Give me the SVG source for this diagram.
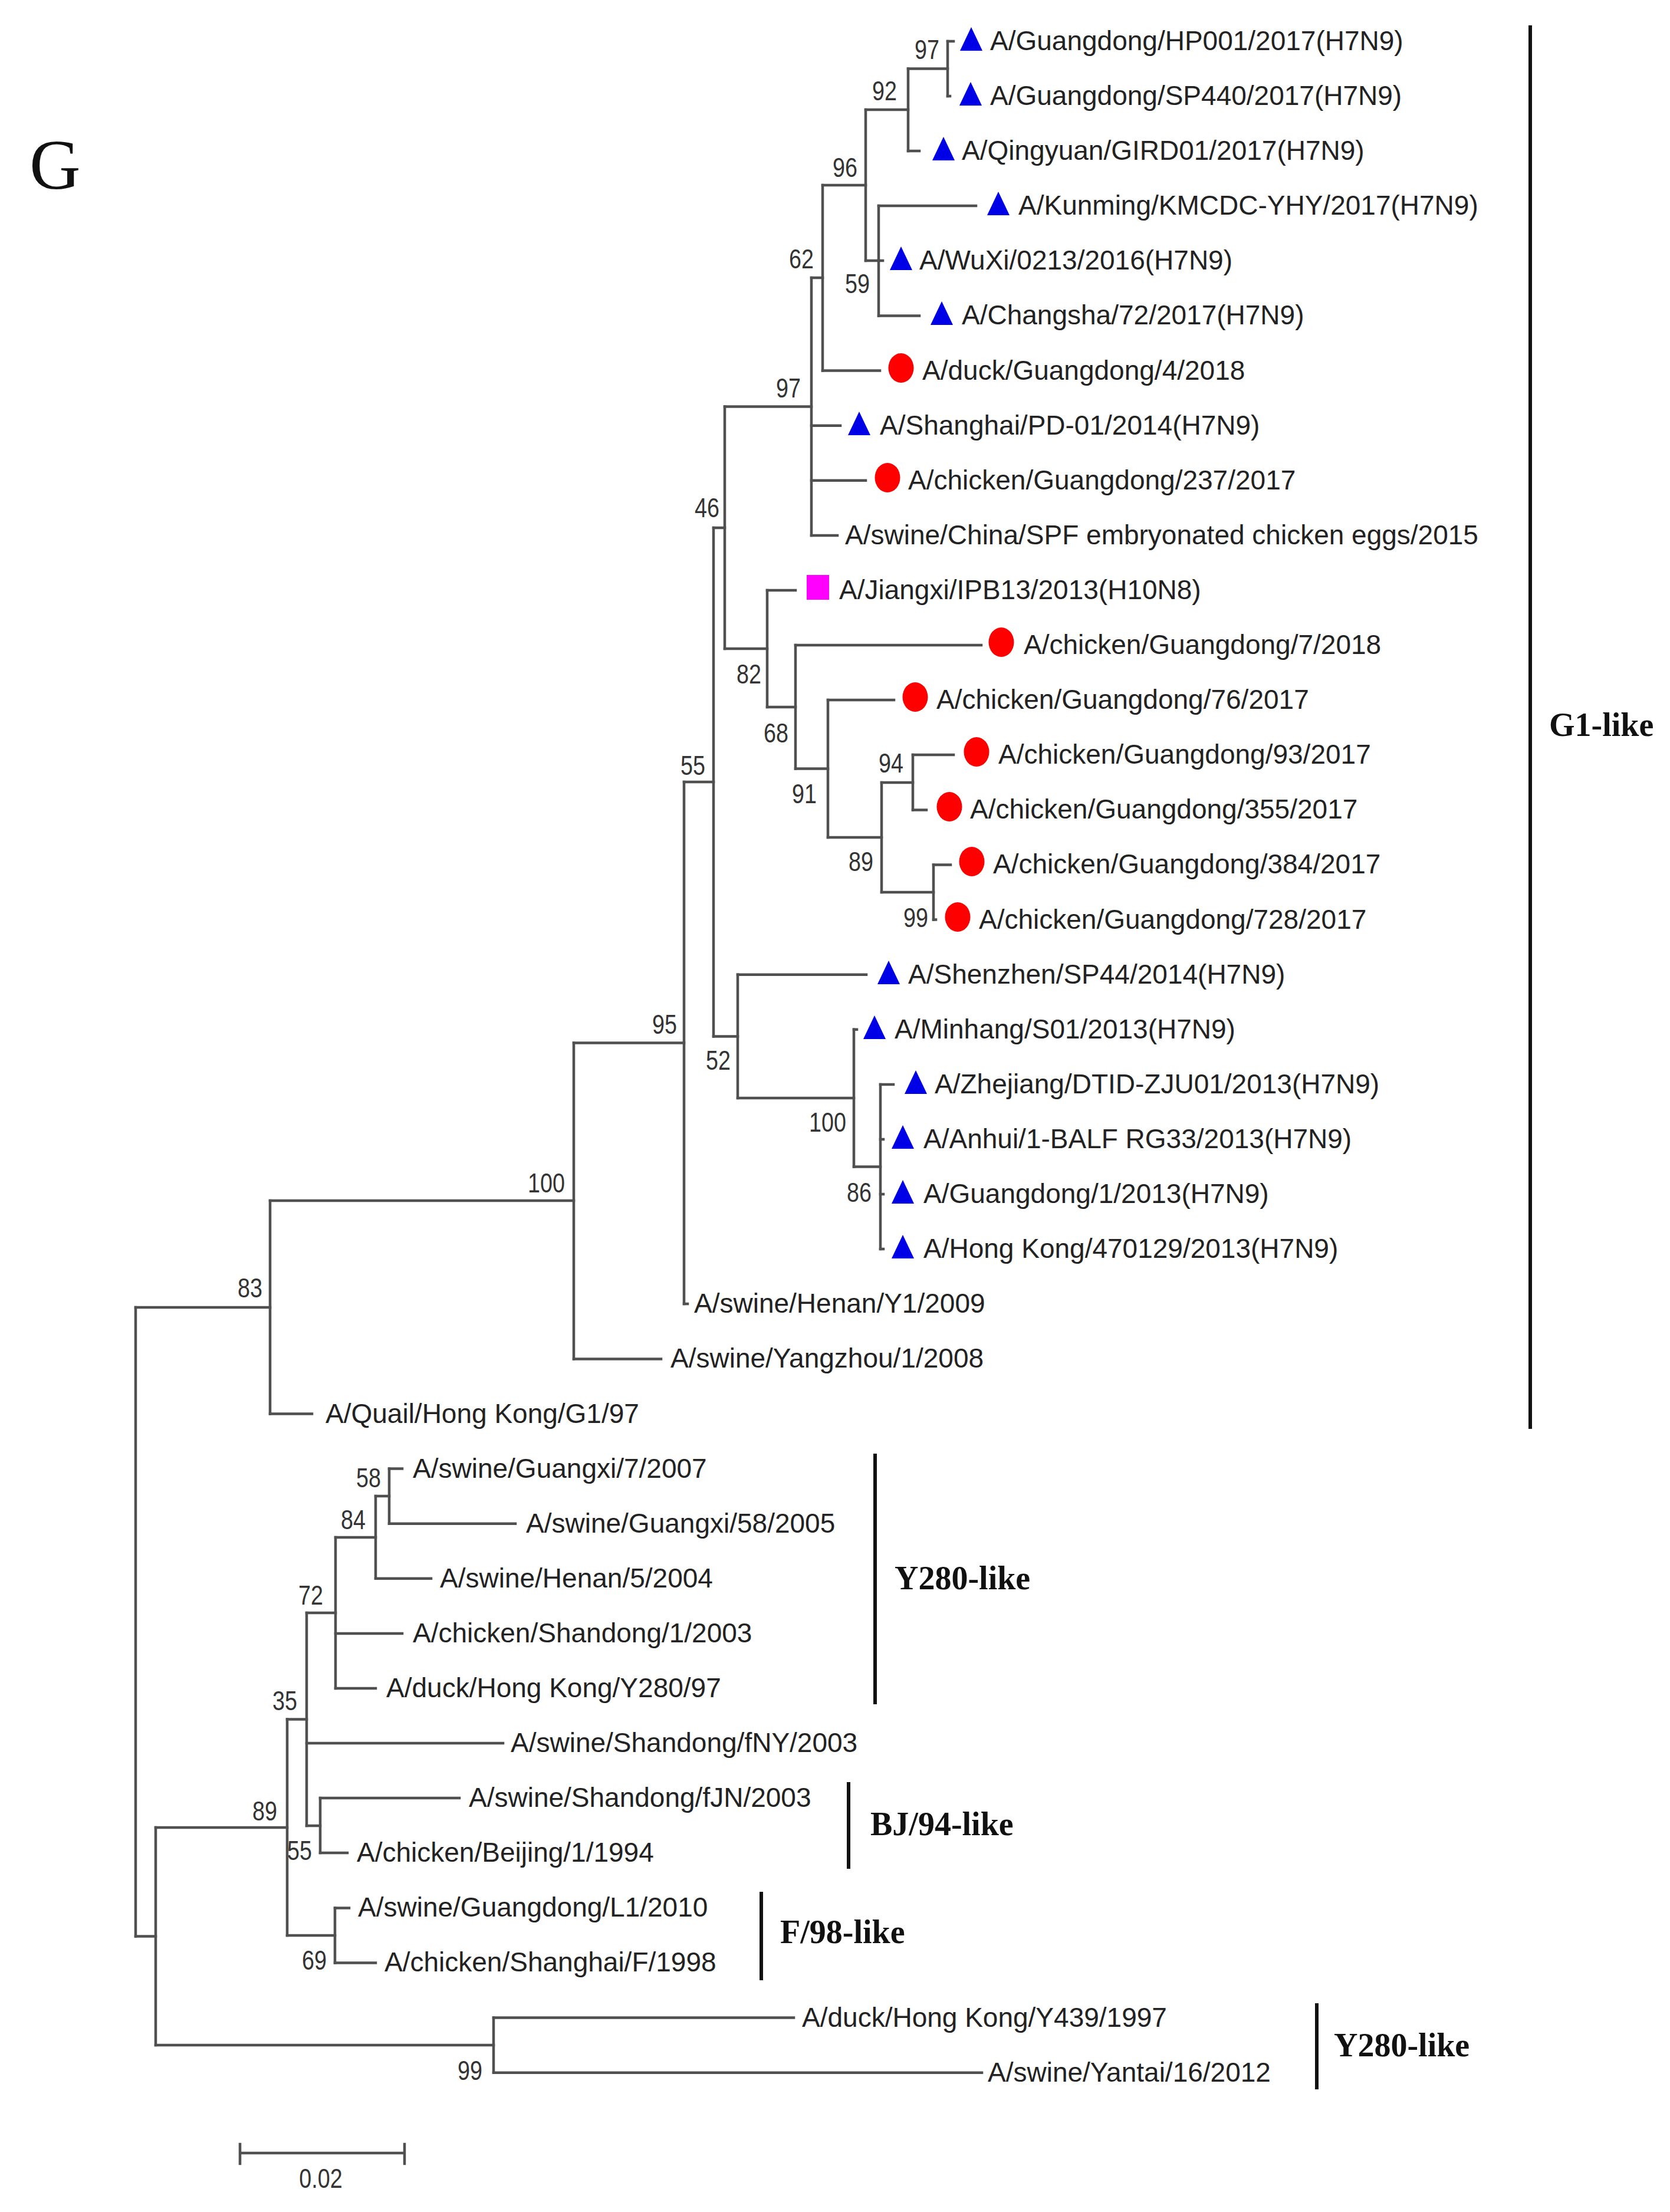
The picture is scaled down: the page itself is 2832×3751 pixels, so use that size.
<svg xmlns="http://www.w3.org/2000/svg" xmlns:xlink="http://www.w3.org/1999/xlink" width="2832" height="3751" viewBox="0 0 2832 3751">
<style>
.lf{font-family:"Liberation Sans",Arial,sans-serif;font-size:46px;fill:#222}
.bs{font-family:"Liberation Sans",Arial,sans-serif;font-size:46px;fill:#333;text-anchor:end}
.grp{font-family:"Liberation Serif","Times New Roman",serif;font-size:56px;font-weight:bold;fill:#111}
.br{fill:none;stroke:#505050;stroke-width:4.5;stroke-linecap:square}
.bar{stroke:#111;stroke-width:6}
.tri{fill:#0000e6}
.cir{fill:#ff0000}
.sq{fill:#ff00ff}
</style>
<defs>
<path id="tri" class="tri" d="M0,-24 L19,16 L-19,16 Z"/>
<ellipse id="cir" class="cir" cx="0" cy="-5" rx="21.5" ry="25"/>
<rect id="sq" class="sq" x="-19" y="-26" width="38" height="42"/>
</defs>
<rect width="2832" height="3751" fill="#ffffff"/>
<text x="50" y="320" font-family="Liberation Serif,Times New Roman,serif" font-size="120" fill="#111">G</text>

<g id="connectors" class="br">
<path d="M1607 70H1617M1607 163H1611M1540 256H1559M1490 349H1655M1490 442H1497M1490 535.5H1559M1395 628.6H1492M1376 721.7H1425M1376 814.8H1468M1376 907.9H1420M1301 1001H1349M1349 1094H1664M1404 1187H1516M1548 1280H1617M1548 1373.4H1571M1583 1466.5H1612M1583 1559.6H1587M1251 1652.7H1469M1448 1745.8H1453M1493 1839H1515M1493 1932H1498M1493 2025H1498M1493 2118H1498M1160 2211H1166M973 2304.4H1121M458 2397.5H529M660 2490.6H682M660 2583.7H874M637 2676.8H731M569 2770H682M569 2863H637M520 2956H853M543 3049H779M543 3142H589M568 3235.4H592M568 3328.5H637M837 3421.6H1346M837 3514.7H1665"/>
<path d="M1607 70V163M1540 116.5V256M1490 349V535.5M1468 186V442M1395 314V628.6M1376 471V908M1548 1280V1373.4M1583 1466.5V1559.6M1495 1327V1513M1404 1187V1420M1349 1094V1303.5M1301 1001V1199M1229 689.5V1100M1493 1839V2118M1448 1745.8V1978.5M1251 1652.7V1862M1210 895V1757.5M1160 1326V2211M973 1768.5V2304.4M458 2036V2397.5M660 2490.6V2583.7M637 2537V2676.8M569 2607V2863M543 3049V3142M520 2735V3096M568 3235.4V3328.5M487 2915.5V3282M837 3421.6V3514.7M264 3099V3468M230 2217V3283.5"/>
<path d="M1540 116.5H1607M1468 186H1540M1468 442H1490M1395 314H1468M1376 471H1395M1229 689.5H1376M1229 1100H1301M1301 1199H1349M1349 1303.5H1404M1404 1420H1495M1495 1327H1548M1495 1513H1583M1210 895H1229M1210 1757.5H1251M1251 1862H1448M1448 1978.5H1493M1160 1326H1210M973 1768.5H1160M458 2036H973M230 2217H458M637 2537H660M569 2607H637M520 2735H569M520 3096H543M487 2915.5H520M487 3282H568M264 3099H487M264 3468H837M230 3283.5H264"/>
</g>

<g id="bootstrap">
<text class="bs" transform="translate(1593 100) scale(0.82 1)">97</text>
<text class="bs" transform="translate(1521 170) scale(0.82 1)">92</text>
<text class="bs" transform="translate(1454 300) scale(0.82 1)">96</text>
<text class="bs" transform="translate(1380 455) scale(0.82 1)">62</text>
<text class="bs" transform="translate(1475 497) scale(0.82 1)">59</text>
<text class="bs" transform="translate(1358 674) scale(0.82 1)">97</text>
<text class="bs" transform="translate(1220 877) scale(0.82 1)">46</text>
<text class="bs" transform="translate(1291 1159) scale(0.82 1)">82</text>
<text class="bs" transform="translate(1337 1259) scale(0.82 1)">68</text>
<text class="bs" transform="translate(1385 1362) scale(0.82 1)">91</text>
<text class="bs" transform="translate(1532 1310) scale(0.82 1)">94</text>
<text class="bs" transform="translate(1481 1477) scale(0.82 1)">89</text>
<text class="bs" transform="translate(1574 1572) scale(0.82 1)">99</text>
<text class="bs" transform="translate(1196 1314) scale(0.82 1)">55</text>
<text class="bs" transform="translate(1148 1753) scale(0.82 1)">95</text>
<text class="bs" transform="translate(1239 1814) scale(0.82 1)">52</text>
<text class="bs" transform="translate(1435 1919) scale(0.82 1)">100</text>
<text class="bs" transform="translate(1478 2038) scale(0.82 1)">86</text>
<text class="bs" transform="translate(958 2022) scale(0.82 1)">100</text>
<text class="bs" transform="translate(445 2200) scale(0.82 1)">83</text>
<text class="bs" transform="translate(646 2522) scale(0.82 1)">58</text>
<text class="bs" transform="translate(620 2593) scale(0.82 1)">84</text>
<text class="bs" transform="translate(548 2721) scale(0.82 1)">72</text>
<text class="bs" transform="translate(504 2900) scale(0.82 1)">35</text>
<text class="bs" transform="translate(470 3087) scale(0.82 1)">89</text>
<text class="bs" transform="translate(529 3154) scale(0.82 1)">55</text>
<text class="bs" transform="translate(554 3340) scale(0.82 1)">69</text>
<text class="bs" transform="translate(818 3527) scale(0.82 1)">99</text>
</g>

<g id="leaf-0"><use xlink:href="#tri" x="1647" y="70"/><text class="lf" x="1679" y="85">A/Guangdong/HP001/2017(H7N9)</text></g>
<g id="leaf-1"><use xlink:href="#tri" x="1646" y="163"/><text class="lf" x="1679" y="178">A/Guangdong/SP440/2017(H7N9)</text></g>
<g id="leaf-2"><use xlink:href="#tri" x="1600" y="256"/><text class="lf" x="1631" y="271">A/Qingyuan/GIRD01/2017(H7N9)</text></g>
<g id="leaf-3"><use xlink:href="#tri" x="1693" y="349"/><text class="lf" x="1727" y="364">A/Kunming/KMCDC-YHY/2017(H7N9)</text></g>
<g id="leaf-4"><use xlink:href="#tri" x="1528" y="442"/><text class="lf" x="1559" y="457">A/WuXi/0213/2016(H7N9)</text></g>
<g id="leaf-5"><use xlink:href="#tri" x="1597" y="535"/><text class="lf" x="1631" y="550">A/Changsha/72/2017(H7N9)</text></g>
<g id="leaf-6"><use xlink:href="#cir" x="1528" y="629"/><text class="lf" x="1564" y="644">A/duck/Guangdong/4/2018</text></g>
<g id="leaf-7"><use xlink:href="#tri" x="1457" y="722"/><text class="lf" x="1492" y="737">A/Shanghai/PD-01/2014(H7N9)</text></g>
<g id="leaf-8"><use xlink:href="#cir" x="1505" y="815"/><text class="lf" x="1540" y="830">A/chicken/Guangdong/237/2017</text></g>
<g id="leaf-9"><text class="lf" x="1433" y="923">A/swine/China/SPF embryonated chicken eggs/2015</text></g>
<g id="leaf-10"><use xlink:href="#sq" x="1387" y="1001"/><text class="lf" x="1423" y="1016">A/Jiangxi/IPB13/2013(H10N8)</text></g>
<g id="leaf-11"><use xlink:href="#cir" x="1698" y="1094"/><text class="lf" x="1736" y="1109">A/chicken/Guangdong/7/2018</text></g>
<g id="leaf-12"><use xlink:href="#cir" x="1552" y="1187"/><text class="lf" x="1588" y="1202">A/chicken/Guangdong/76/2017</text></g>
<g id="leaf-13"><use xlink:href="#cir" x="1656" y="1280"/><text class="lf" x="1693" y="1295">A/chicken/Guangdong/93/2017</text></g>
<g id="leaf-14"><use xlink:href="#cir" x="1610" y="1373"/><text class="lf" x="1645" y="1388">A/chicken/Guangdong/355/2017</text></g>
<g id="leaf-15"><use xlink:href="#cir" x="1648" y="1466"/><text class="lf" x="1684" y="1481">A/chicken/Guangdong/384/2017</text></g>
<g id="leaf-16"><use xlink:href="#cir" x="1624" y="1560"/><text class="lf" x="1660" y="1575">A/chicken/Guangdong/728/2017</text></g>
<g id="leaf-17"><use xlink:href="#tri" x="1507" y="1653"/><text class="lf" x="1540" y="1668">A/Shenzhen/SP44/2014(H7N9)</text></g>
<g id="leaf-18"><use xlink:href="#tri" x="1483" y="1746"/><text class="lf" x="1517" y="1761">A/Minhang/S01/2013(H7N9)</text></g>
<g id="leaf-19"><use xlink:href="#tri" x="1553" y="1839"/><text class="lf" x="1585" y="1854">A/Zhejiang/DTID-ZJU01/2013(H7N9)</text></g>
<g id="leaf-20"><use xlink:href="#tri" x="1531" y="1932"/><text class="lf" x="1566" y="1947">A/Anhui/1-BALF RG33/2013(H7N9)</text></g>
<g id="leaf-21"><use xlink:href="#tri" x="1531" y="2025"/><text class="lf" x="1566" y="2040">A/Guangdong/1/2013(H7N9)</text></g>
<g id="leaf-22"><use xlink:href="#tri" x="1531" y="2118"/><text class="lf" x="1566" y="2133">A/Hong Kong/470129/2013(H7N9)</text></g>
<g id="leaf-23"><text class="lf" x="1177" y="2226">A/swine/Henan/Y1/2009</text></g>
<g id="leaf-24"><text class="lf" x="1137" y="2319">A/swine/Yangzhou/1/2008</text></g>
<g id="leaf-25"><text class="lf" x="552" y="2413">A/Quail/Hong Kong/G1/97</text></g>
<g id="leaf-26"><text class="lf" x="700" y="2506">A/swine/Guangxi/7/2007</text></g>
<g id="leaf-27"><text class="lf" x="892" y="2599">A/swine/Guangxi/58/2005</text></g>
<g id="leaf-28"><text class="lf" x="746" y="2692">A/swine/Henan/5/2004</text></g>
<g id="leaf-29"><text class="lf" x="700" y="2785">A/chicken/Shandong/1/2003</text></g>
<g id="leaf-30"><text class="lf" x="655" y="2878">A/duck/Hong Kong/Y280/97</text></g>
<g id="leaf-31"><text class="lf" x="866" y="2971">A/swine/Shandong/fNY/2003</text></g>
<g id="leaf-32"><text class="lf" x="795" y="3064">A/swine/Shandong/fJN/2003</text></g>
<g id="leaf-33"><text class="lf" x="605" y="3157">A/chicken/Beijing/1/1994</text></g>
<g id="leaf-34"><text class="lf" x="607" y="3250">A/swine/Guangdong/L1/2010</text></g>
<g id="leaf-35"><text class="lf" x="652" y="3343">A/chicken/Shanghai/F/1998</text></g>
<g id="leaf-36"><text class="lf" x="1360" y="3437">A/duck/Hong Kong/Y439/1997</text></g>
<g id="leaf-37"><text class="lf" x="1675" y="3530">A/swine/Yantai/16/2012</text></g>

<g id="clade-G1"><line class="bar" x1="2595" y1="43" x2="2595" y2="2423"/><text class="grp" x="2627" y="1248">G1-like</text></g>
<g id="clade-Y280-top"><line class="bar" x1="1484" y1="2465" x2="1484" y2="2890"/><text class="grp" x="1517" y="2695">Y280-like</text></g>
<g id="clade-BJ94"><line class="bar" x1="1439" y1="3022" x2="1439" y2="3169"/><text class="grp" x="1476" y="3112">BJ/94-like</text></g>
<g id="clade-F98"><line class="bar" x1="1291" y1="3208" x2="1291" y2="3358"/><text class="grp" x="1323" y="3295">F/98-like</text></g>
<g id="clade-Y280-bottom"><line class="bar" x1="2233" y1="3397" x2="2233" y2="3543"/><text class="grp" x="2262" y="3487">Y280-like</text></g>

<g id="scale-bar">
<path class="br" d="M407 3651H686M407 3636V3669M686 3636V3669"/>
<text class="bs" style="text-anchor:middle" transform="translate(544 3710) scale(0.82 1)">0.02</text>
</g>
</svg>
